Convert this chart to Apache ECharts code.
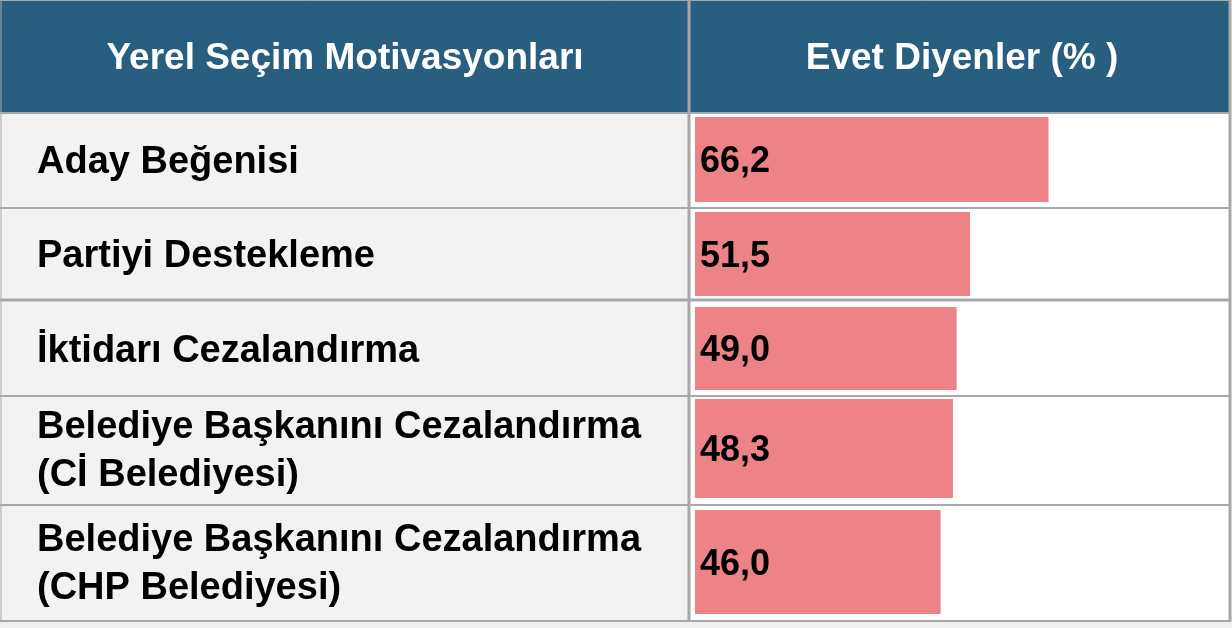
<!DOCTYPE html>
<html>
<head>
<meta charset="utf-8">
<script src="https://cdn.jsdelivr.net/npm/echarts@6/dist/echarts.min.js"></script>
<style>
  html, body { margin: 0; padding: 0; background: #f0f0f0; }
  #main { width: 1232px; height: 628px; }
</style>
</head>
<body>
<div id="main"></div>
<script>
// veriler
const headers = ['Yerel Seçim Motivasyonları', 'Evet Diyenler (% )'];
const categories = [
  'Aday Beğenisi',
  'Partiyi Destekleme',
  'İktidarı Cezalandırma',
  'Belediye Başkanını Cezalandırma\n(Cİ Belediyesi)',
  'Belediye Başkanını Cezalandırma\n(CHP Belediyesi)'
];
const values = [66.2, 51.5, 49.0, 48.3, 46.0];

// tablo düzeni (piksel)
const barTops = [117, 212, 307, 399, 510];
const barHeights = [85, 84, 83, 99, 104];
const rowLines = [113, 208, 300, 396, 505, 621];
const font = '"Liberation Sans", Arial, sans-serif';
const lineColor = '#a8a8a8';

const chart = echarts.init(document.getElementById('main'));

const grids = [], xAxes = [], yAxes = [], series = [];
categories.forEach(function (cat, i) {
  grids.push({ left: 695, width: 534, top: barTops[i], height: barHeights[i] });
  xAxes.push({ gridIndex: i, type: 'value', min: 0, max: 100, show: false });
  yAxes.push({
    gridIndex: i,
    type: 'category',
    data: [cat],
    axisLine: { show: false },
    axisTick: { show: false },
    axisLabel: {
      align: 'left',
      margin: 658,
      formatter: function (v) {
        return v.split('\n').map(function (s) { return '{a|' + s + '}'; }).join('\n');
      },
      rich: {
        a: {
          fontSize: 38,
          fontWeight: 'bold',
          fontFamily: font,
          color: '#000',
          lineHeight: 48,
          padding: [6, 0, 0, 0]
        }
      }
    }
  });
  series.push({
    type: 'bar',
    xAxisIndex: i,
    yAxisIndex: i,
    data: [values[i]],
    barWidth: '100%',
    silent: true,
    itemStyle: { color: '#ee8387' },
    label: {
      show: true,
      position: 'insideLeft',
      distance: 5,
      offset: [0, 3],
      fontSize: 36,
      fontWeight: 'bold',
      fontFamily: font,
      color: '#000',
      formatter: function (p) { return p.value.toFixed(1).replace('.', ','); }
    }
  });
});

// tablo arka planı ve çizgiler
const graphic = [
  { type: 'rect', z: -10, shape: { x: 0, y: 0, width: 1230, height: 113 }, style: { fill: '#285f80' } },
  { type: 'rect', z: -10, shape: { x: 0, y: 113, width: 689, height: 508 }, style: { fill: '#f2f2f2' } },
  { type: 'rect', z: -10, shape: { x: 689, y: 113, width: 541, height: 508 }, style: { fill: '#ffffff' } },
  { type: 'rect', z: -10, shape: { x: 0, y: 621, width: 1232, height: 7 }, style: { fill: '#f0f0f0' } },
  { type: 'text', x: 345, y: 59, style: { text: headers[0], fill: '#fff', font: 'bold 37px ' + font, textAlign: 'center', textVerticalAlign: 'middle' } },
  { type: 'text', x: 962, y: 59, style: { text: headers[1], fill: '#fff', font: 'bold 37px ' + font, textAlign: 'center', textVerticalAlign: 'middle' } }
];
rowLines.forEach(function (y, i) {
  graphic.push({ type: 'line', z: 10, shape: { x1: 0, y1: y, x2: 1231, y2: y }, style: { stroke: lineColor, lineWidth: i === 2 ? 3 : 2 } });
});
[1, 689, 1230].forEach(function (x) {
  graphic.push({ type: 'line', z: 10, shape: { x1: x, y1: 0, x2: x, y2: 622 }, style: { stroke: lineColor, lineWidth: x === 1 ? 1 : 3 } });
});
graphic.push({ type: 'line', z: 10, shape: { x1: 0, y1: 0.5, x2: 1231, y2: 0.5 }, style: { stroke: lineColor, lineWidth: 1 } });

chart.setOption({
  backgroundColor: '#ffffff',
  animation: false,
  grid: grids,
  xAxis: xAxes,
  yAxis: yAxes,
  series: series,
  graphic: graphic
});
</script>
</body>
</html>
